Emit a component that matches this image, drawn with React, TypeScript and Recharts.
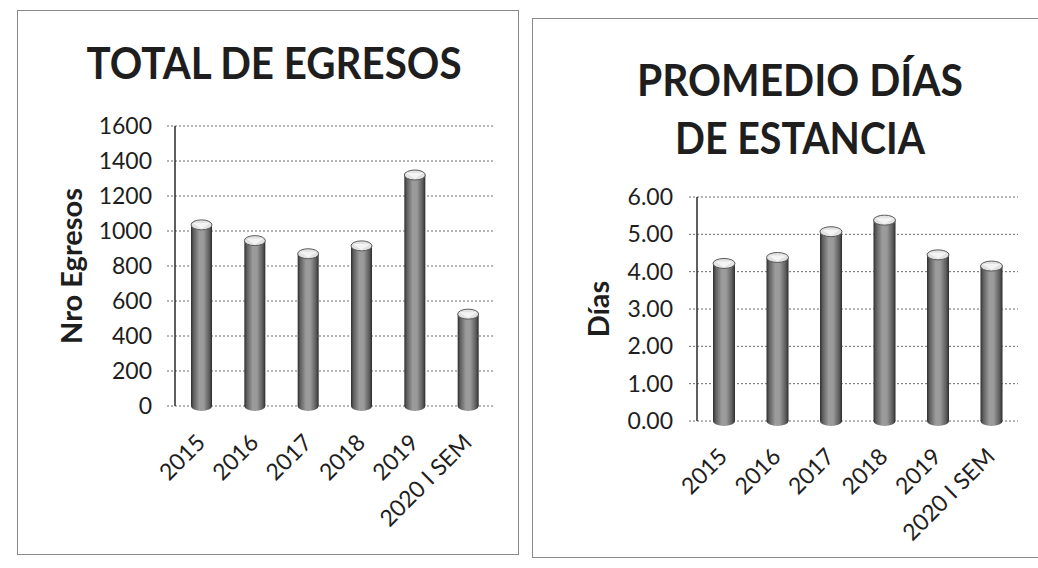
import React from 'react';
import { BarChart, Bar, XAxis, YAxis, CartesianGrid } from 'recharts';

const categories = ['2015', '2016', '2017', '2018', '2019', '2020 I SEM'];
const egresos = [1035, 945, 870, 915, 1320, 525];
const dias = [4.22, 4.38, 5.07, 5.38, 4.45, 4.15];
const egresosTicks = [0, 200, 400, 600, 800, 1000, 1200, 1400, 1600];
const diasTicks = [0, 1, 2, 3, 4, 5, 6];

const leftData = categories.map((c, i) => ({ name: c, value: egresos[i] }));
const rightData = categories.map((c, i) => ({ name: c, value: dias[i] }));

const FONT = 'Lato, "Open Sans", sans-serif';
const INK = '#1e1e1e';

const makeCylinder = (gid: string) => (props: any) => {
  const { x, y, width, height } = props;
  if (width == null || height == null) return null;
  const cx = x + width / 2;
  const ry = 5;
  return (
    <g>
      <ellipse cx={cx} cy={y + height} rx={width / 2} ry={ry} fill={`url(#${gid})`} />
      <rect x={x} y={y} width={width} height={height} fill={`url(#${gid})`} />
      <ellipse cx={cx} cy={y} rx={width / 2} ry={ry} fill="#e2e2e2" stroke="#5a5a5a" strokeWidth={1} />
      <path d={`M${x + 2},${y - 2} L${cx},${y + 4} L${x + width - 2},${y - 2}`} fill="#f4f4f4" stroke="none" />
    </g>
  );
};

const XTick = (props: any) => {
  const { x, y, payload } = props;
  return (
    <g transform={`translate(${x + 5},${y})`}>
      <text x={0} y={0} textAnchor="end" transform="rotate(-45)" fontFamily={FONT} fontSize={23} fill={INK}>
        {payload.value}
      </text>
    </g>
  );
};

const yLabel = (text: string, cx: number) => (props: any) => {
  const vb = props.viewBox || {};
  const cy = vb.y + vb.height / 2;
  return (
    <text x={cx} y={cy} transform={`rotate(-90, ${cx}, ${cy})`} textAnchor="middle" dominantBaseline="central"
      fontFamily={FONT} fontWeight={700} fontSize={29} fill={INK}>
      {text}
    </text>
  );
};

const Grad = ({ id }: { id: string }) => (
  <defs>
    <linearGradient id={id} x1="0" y1="0" x2="1" y2="0">
      <stop offset="0%" stopColor="#2e2e2e" />
      <stop offset="12%" stopColor="#5e5e5e" />
      <stop offset="40%" stopColor="#9c9c9c" />
      <stop offset="60%" stopColor="#9a9a9a" />
      <stop offset="88%" stopColor="#5a5a5a" />
      <stop offset="100%" stopColor="#2a2a2a" />
    </linearGradient>
  </defs>
);

export default function App() {
  return (
    <div style={{ position: 'fixed', left: 0, top: 0, width: 1038, height: 568, background: '#fff', overflow: 'hidden' }}>
      {/* panel borders */}
      <div style={{ position: 'absolute', left: 17, top: 10, width: 500, height: 543, border: '1px solid #8a8a8a' }} />
      <div style={{ position: 'absolute', left: 532, top: 18, width: 520, height: 538, border: '1px solid #8a8a8a' }} />

      {/* left chart */}
      <div style={{ position: 'absolute', left: 0, top: 0 }}>
        <BarChart width={518} height={568} data={leftData} margin={{ top: 126, right: 23, left: 0, bottom: 62 }} barSize={21}>
          <Grad id="cylL" />
          <CartesianGrid vertical={false} stroke="#6a6a6a" strokeDasharray="2 2" />
          <XAxis dataKey="name" axisLine={false} tickLine={false} height={100} interval={0} tick={<XTick />} tickMargin={0} tickSize={38} />
          <YAxis width={175} domain={[0, 1600]} ticks={egresosTicks} interval={0}
            axisLine={{ stroke: '#2a2a2a', strokeWidth: 1.5 }}
            tickLine={{ stroke: '#6a6a6a', strokeDasharray: '2 2' }} tickSize={8} tickMargin={15}
            tick={{ fontFamily: FONT, fontSize: 23, fill: INK }}
            label={{ content: yLabel('Nro Egresos', 70) }} />
          <Bar dataKey="value" isAnimationActive={false} shape={makeCylinder('cylL')} />
        </BarChart>
      </div>

      {/* right chart */}
      <div style={{ position: 'absolute', left: 518, top: 0 }}>
        <BarChart width={520} height={568} data={rightData} margin={{ top: 197, right: 20, left: 0, bottom: 47 }} barSize={22}>
          <Grad id="cylR" />
          <CartesianGrid vertical={false} stroke="#6a6a6a" strokeDasharray="2 2" />
          <XAxis dataKey="name" axisLine={false} tickLine={false} height={100} interval={0} tick={<XTick />} tickMargin={0} tickSize={37} />
          <YAxis width={179} domain={[0, 6]} ticks={diasTicks} interval={0}
            tickFormatter={(v: number) => v.toFixed(2)}
            axisLine={{ stroke: '#2a2a2a', strokeWidth: 1.5 }}
            tickLine={{ stroke: '#6a6a6a', strokeDasharray: '2 2' }} tickSize={8} tickMargin={16}
            tick={{ fontFamily: FONT, fontSize: 23, fill: INK }}
            label={{ content: yLabel('Días', 79) }} />
          <Bar dataKey="value" isAnimationActive={false} shape={makeCylinder('cylR')} />
        </BarChart>
      </div>

      {/* titles */}
      <svg width={1038} height={568} style={{ position: 'absolute', left: 0, top: 0, pointerEvents: 'none' }}>
        <text x={274} y={79} textAnchor="middle" fontFamily={FONT} fontWeight={700} fontSize={44} fill={INK}
          textLength={375} lengthAdjust="spacingAndGlyphs">TOTAL DE EGRESOS</text>
        <text x={800} y={96} textAnchor="middle" fontFamily={FONT} fontWeight={700} fontSize={44} fill={INK}
          textLength={326} lengthAdjust="spacingAndGlyphs">PROMEDIO DÍAS</text>
        <text x={800} y={154} textAnchor="middle" fontFamily={FONT} fontWeight={700} fontSize={44} fill={INK}
          textLength={250} lengthAdjust="spacingAndGlyphs">DE ESTANCIA</text>
      </svg>
    </div>
  );
}
